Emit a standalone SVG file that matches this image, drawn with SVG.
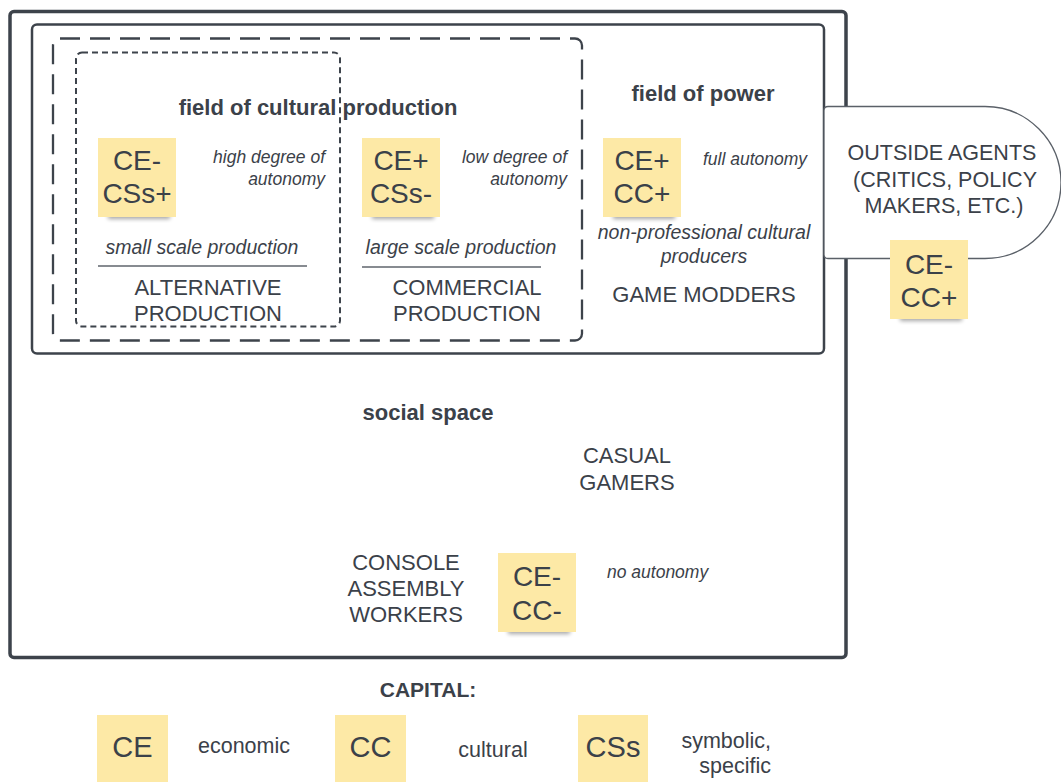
<svg xmlns="http://www.w3.org/2000/svg" width="1061" height="782" viewBox="0 0 1061 782">
<defs>
<filter id="sh" x="-20%" y="-50%" width="140%" height="200%"><feGaussianBlur stdDeviation="2"/></filter>
<style>
text{font-family:"Liberation Sans",Arial,sans-serif;fill:#3b4149}
.t{font-size:28px;text-anchor:middle}
.lg{font-size:29px;text-anchor:middle}
.up{font-size:22px;text-anchor:middle}
.oa{font-size:21.5px;text-anchor:middle}
.it{font-style:italic;font-size:17.5px}
.it2{font-style:italic;font-size:19.5px;text-anchor:middle}
.b{font-weight:bold;font-size:22px;text-anchor:middle}
.lab{font-size:21.5px}
.note{fill:#fde9a6}
.shd{fill:#000;opacity:0.35;filter:url(#sh)}
.box{fill:none;stroke:#3d434b}
.rule{stroke:#5f656d;stroke-width:1.5}
</style>
</defs>
<rect width="1061" height="782" fill="#fff"/>
<g id="social-space">
<rect class="box" x="10" y="11.5" width="836" height="646" rx="4" stroke-width="3.5"/>
<text class="b" x="428" y="420">social space</text>
</g>
<g id="field-of-power">
<rect class="box" x="32" y="24.5" width="792" height="329" rx="5" stroke-width="2.5"/>
<text class="b" x="703" y="101">field of power</text>
</g>
<g id="field-of-cultural-production">
<rect class="box" x="53" y="38.5" width="529" height="302" rx="7" stroke="#4a5058" stroke-width="2.3" stroke-dasharray="20 10"/>
<text class="b" x="318" y="115">field of cultural production</text>
</g>
<g id="alternative-production">
<rect class="box" x="76" y="52.5" width="264" height="274" rx="6" stroke="#4a5058" stroke-width="2" stroke-dasharray="6 4"/>
<text class="it" x="325" y="163" text-anchor="end">high degree of</text>
<text class="it" x="325" y="185" text-anchor="end">autonomy</text>
<text class="it2" x="202" y="254">small scale production</text>
<line class="rule" x1="98" y1="266" x2="307" y2="266"/>
<text class="up" x="208" y="295">ALTERNATIVE</text>
<text class="up" x="208" y="321">PRODUCTION</text>
</g>
<g id="commercial-production">
<text class="it" x="567" y="163" text-anchor="end">low degree of</text>
<text class="it" x="567" y="185" text-anchor="end">autonomy</text>
<text class="it2" x="461" y="254">large scale production</text>
<line class="rule" x1="362" y1="267" x2="541" y2="267"/>
<text class="up" x="467" y="295">COMMERCIAL</text>
<text class="up" x="467" y="321">PRODUCTION</text>
</g>
<g id="game-modders">
<text class="it" x="703" y="165">full autonomy</text>
<text class="it2" x="704" y="239">non-professional cultural</text>
<text class="it2" x="704" y="263">producers</text>
<text class="up" x="704" y="302">GAME MODDERS</text>
</g>
<g id="casual-gamers">
<text class="up" x="627" y="463">CASUAL</text>
<text class="up" x="627" y="490">GAMERS</text>
</g>
<g id="console-assembly-workers">
<text class="up" x="406" y="570">CONSOLE</text>
<text class="up" x="406" y="596">ASSEMBLY</text>
<text class="up" x="406" y="622">WORKERS</text>
<text class="it" x="607" y="578">no autonomy</text>
</g>
<g id="outside-agents">
<path d="M828,106.5 H985 A76,76 0 0 1 985,258.5 H828 Q824,258.5 824,254.5 V110.5 Q824,106.5 828,106.5 Z" fill="#fff" stroke="#5a6068" stroke-width="1.3"/>
<text class="oa" x="942" y="160">OUTSIDE AGENTS</text>
<text class="oa" x="945" y="187">(CRITICS, POLICY</text>
<text class="oa" x="944" y="213">MAKERS, ETC.)</text>
</g>
<g id="note-ce-minus-css-plus">
<rect class="shd" x="108" y="212" width="62" height="7"/>
<rect class="note" x="98" y="138" width="78" height="79"/>
<text class="t" x="137" y="170">CE-</text>
<text class="t" x="137" y="203">CSs+</text>
</g>
<g id="note-ce-plus-css-minus">
<rect class="shd" x="372" y="212" width="62" height="7"/>
<rect class="note" x="362" y="138" width="78" height="79"/>
<text class="t" x="401" y="170">CE+</text>
<text class="t" x="401" y="203">CSs-</text>
</g>
<g id="note-ce-plus-cc-plus">
<rect class="shd" x="613" y="212" width="62" height="7"/>
<rect class="note" x="603" y="138" width="78" height="79"/>
<text class="t" x="642" y="170">CE+</text>
<text class="t" x="642" y="203">CC+</text>
</g>
<g id="note-ce-minus-cc-plus">
<rect class="shd" x="900" y="314" width="62" height="7"/>
<rect class="note" x="890" y="240" width="78" height="79"/>
<text class="t" x="929" y="274">CE-</text>
<text class="t" x="929" y="307">CC+</text>
</g>
<g id="note-ce-minus-cc-minus">
<rect class="shd" x="508" y="627" width="62" height="7"/>
<rect class="note" x="498" y="553" width="78" height="79"/>
<text class="t" x="537" y="586">CE-</text>
<text class="t" x="537" y="620">CC-</text>
</g>
<g id="connectors"></g>
<g id="legend">
<text class="b" x="428" y="697" style="font-size:21px">CAPITAL:</text>
<rect class="note" x="97" y="715" width="71" height="70"/>
<text class="lg" x="132.5" y="757">CE</text>
<text class="lab" x="244" y="753" text-anchor="middle">economic</text>
<rect class="note" x="335" y="715" width="71" height="70"/>
<text class="lg" x="370.5" y="757">CC</text>
<text class="lab" x="493" y="757" text-anchor="middle">cultural</text>
<rect class="note" x="578" y="715" width="70" height="70"/>
<text class="lg" x="613" y="757">CSs</text>
<text class="lab" x="771" y="748" text-anchor="end">symbolic,</text>
<text class="lab" x="771" y="773" text-anchor="end">specific</text>
</g>
</svg>
